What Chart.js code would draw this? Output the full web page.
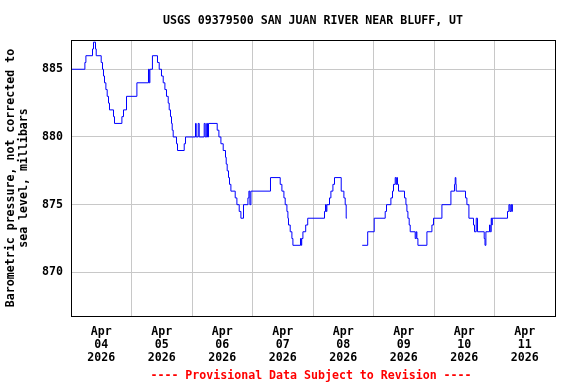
<!DOCTYPE html>
<html><head><meta charset="utf-8">
<script src="https://cdn.jsdelivr.net/npm/chart.js"></script>
<style>html,body{margin:0;padding:0;background:#fff}canvas{display:block}</style>
</head><body>
<canvas id="c" width="576" height="384"></canvas>
<script>
const titleText = 'USGS 09379500 SAN JUAN RIVER NEAR BLUFF, UT';
const footerText = '---- Provisional Data Subject to Revision ----';
const yTitle = ['Barometric pressure, not corrected to', 'sea level, millibars'];
const monthLabel = 'Apr';
const yearLabel = '2026';
const dayLabels = ['04','05','06','07','08','09','10','11'];
const yTicks = [870, 875, 880, 885];

// hours since Apr 04 2026 00:00 at which the reading changes
const hours = [
  0, 5.51, 5.91, 8.53, 8.93, 9.72, 10.0, 11.98, 12.5, 12.89, 13.29, 13.84, 14.36, 14.88, 15.27, 16.86, 17.26,
  20.19, 20.83, 22.02, 26.14, 30.74, 31.02, 31.3, 32.3, 34.31, 34.99, 35.9, 36.58, 37.25, 37.88, 38.56, 38.96,
  39.47, 39.87, 40.15, 40.54, 41.85, 42.25, 44.91, 45.42, 49.39, 49.67, 50.46, 50.86, 52.84, 53.24, 53.83, 54.15,
  54.55, 58.0, 58.67, 59.47, 60.38, 61.29, 61.57, 61.96, 62.48, 62.88, 63.43, 65.14, 65.81, 66.73, 67.4, 68.43,
  70.18, 70.57, 70.97, 71.37, 79.14, 82.99, 83.66, 84.46, 84.97, 85.65, 86.04, 86.28, 86.96, 87.63, 88.03, 91.04,
  91.32, 91.52, 92.0, 93.1, 93.9, 100.56, 100.96, 101.23, 101.51, 102.55, 103.1, 103.9, 104.53, 107.19, 108.26,
  108.77, 109.17, 109.4, 109.6,
  115.52, 117.7, 120.28, 124.64, 125.16, 126.9, 127.54, 127.93, 128.61, 128.99, 129.27, 129.51, 129.92, 132.3,
  132.86, 133.25, 133.65, 134.16, 134.56, 136.54, 136.94, 137.21, 137.62, 141.19, 143.17, 143.81, 147.14, 150.71,
  152.13, 152.41, 152.69, 152.81, 156.5, 157.05, 157.85, 159.67, 160.07, 160.75, 161.26, 163.92, 164.23, 164.59,
  166.02, 166.3, 166.7, 166.97, 167.09, 173.16, 173.72, 174.12, 174.51, 174.83, 175.1, 175.3
];
// barometric pressure (millibars) from each of those hours on; null = missing data
const pressure = [
  885, 885.5, 886, 886.5, 887, 886.5, 886, 885.5, 885, 884.5, 884, 883.5, 883, 882.5, 882, 881.5, 881,
  881.5, 882, 883, 884, 885, 884, 885, 886, 885.5, 885, 884.5, 884, 883.5, 883, 882.5, 882,
  881.5, 881, 880.5, 880, 879.5, 879, 879.5, 880, 881, 880, 881, 880, 881, 880, 881, 880,
  881, 880.5, 880, 879.5, 879, 878.5, 878, 877.5, 877, 876.5, 876, 875.5, 875, 874.5, 874, 875,
  875.5, 876, 875, 876, 877, 876.5, 876, 875.5, 875, 874.5, 874, 873.5, 873, 872.5, 872, 872.5,
  872, 872.5, 873, 873.5, 874, 874.5, 875, 874.5, 875, 875.5, 876, 876.5, 877, 876, 875.5,
  875, 874, 874, null,
  872, 873, 874, 874.5, 875, 875.5, 876, 876.5, 877, 876.5, 877, 876.5, 876, 875.5,
  875, 874.5, 874, 873.5, 873, 872.5, 873, 872.5, 872, 873, 873.5, 874, 875, 876,
  876.5, 877, 876.5, 876, 875.5, 875, 874, 873.5, 873, 874, 873, 872.5, 872, 873,
  873.5, 873, 874, 873.5, 874, 874.5, 875, 874.5, 875, 874.5, 875, 875
];

const points = hours.map((h, i) => ({ x: h, y: pressure[i] }));
const FONT = 'DejaVu Sans Mono';

const framePlugin = {
  id: 'frame',
  afterDraw(chart) {
    const { ctx, chartArea: a } = chart;
    ctx.save();
    ctx.strokeStyle = '#000';
    ctx.lineWidth = 1;
    ctx.strokeRect(Math.round(a.left) + 0.5, Math.round(a.top) + 0.5, Math.round(a.right - a.left), Math.round(a.bottom - a.top));
    const cx = (a.left + a.right) / 2;
    ctx.font = 'bold 11.6px "' + FONT + '"';
    ctx.textAlign = 'center';
    ctx.textBaseline = 'middle';
    ctx.fillStyle = '#000';
    ctx.fillText(titleText, cx, 20.5);
    ctx.fillStyle = '#ff0000';
    ctx.fillText(footerText, cx - 2, 375.5);
    ctx.restore();
  }
};

new Chart(document.getElementById('c'), {
  type: 'line',
  data: {
    datasets: [{
      data: points,
      borderColor: '#0000ff',
      borderWidth: 1,
      pointRadius: 0,
      stepped: true,
      spanGaps: false,
      fill: false
    }]
  },
  options: {
    responsive: false,
    animation: false,
    devicePixelRatio: 1,
    layout: { padding: { top: 40, right: 21, bottom: 0, left: 0 } },
    plugins: { legend: { display: false }, tooltip: { enabled: false }, title: { display: false } },
    scales: {
      x: {
        type: 'linear',
        min: 0,
        max: 192,
        afterBuildTicks(scale) {
          const t = [];
          for (let v = 12; v < 192; v += 12) t.push({ value: v });
          scale.ticks = t;
        },
        afterFit(scale) { scale.height = 68; },
        grid: {
          drawTicks: false,
          color: ctx => (ctx.tick && ctx.tick.value % 24 === 0) ? '#c8c8c8' : 'rgba(0,0,0,0)',
          lineWidth: 1
        },
        border: { display: false },
        ticks: {
          autoSkip: false,
          maxRotation: 0,
          padding: 10,
          color: '#000',
          font: { family: FONT, weight: 'bold', size: 11.6, lineHeight: 1.1 },
          callback: v => (v % 24 === 12) ? [monthLabel, dayLabels[(v - 12) / 24], yearLabel] : ''
        }
      },
      y: {
        type: 'linear',
        min: 866.78,
        max: 887.16,
        afterBuildTicks(scale) { scale.ticks = yTicks.map(v => ({ value: v })); },
        afterFit(scale) { scale.width = 71; },
        grid: { drawTicks: false, color: '#c8c8c8', lineWidth: 1 },
        border: { display: false },
        ticks: {
          padding: 8,
          color: '#000',
          font: { family: FONT, weight: 'bold', size: 11.6 },
          callback: v => String(v)
        },
        title: {
          display: true,
          text: yTitle,
          color: '#000',
          padding: { top: 5, bottom: 0 },
          font: { family: FONT, weight: 'bold', size: 11.6, lineHeight: 1.08 }
        }
      }
    }
  },
  plugins: [framePlugin]
});
</script>
</body></html>
